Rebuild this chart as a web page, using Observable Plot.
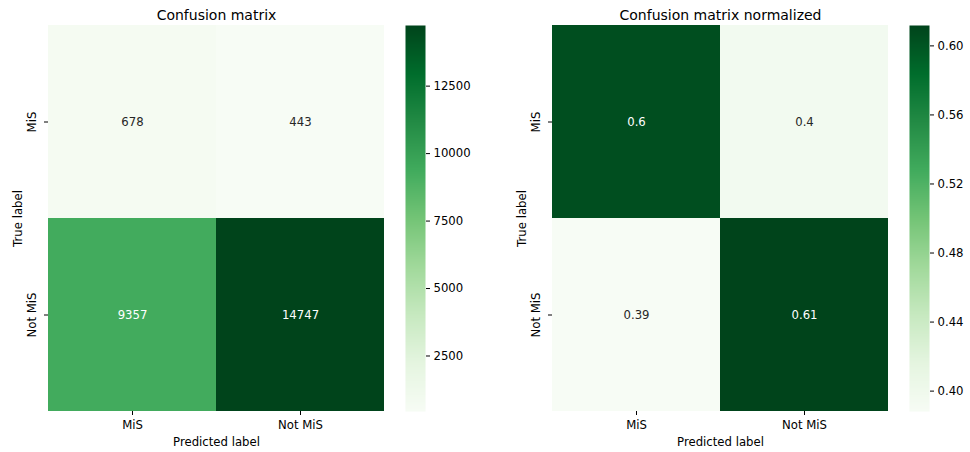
<!DOCTYPE html>
<html>
<head>
<meta charset="utf-8">
<script src="https://cdn.jsdelivr.net/npm/d3@7"></script>
<script src="https://cdn.jsdelivr.net/npm/@observablehq/plot@0.6"></script>
<style>
  body { margin: 0; background: #fff; }
  #chart { position: relative; width: 970px; height: 452px; }
  #chart svg { position: absolute; top: 0; }
</style>
</head>
<body>
<div id="chart"></div>
<script>
// Class labels (rows = true label, columns = predicted label)
const classes = ["MiS", "Not MiS"];
// Raw confusion-matrix counts, one array per true class
const countsMiS = [678, 443];
const countsNotMiS = [9357, 14747];
const countRows = [countsMiS, countsNotMiS];
// Colorbar tick values
const countTicks = [2500, 5000, 7500, 10000, 12500];
const normTicks = [0.40, 0.44, 0.48, 0.52, 0.56, 0.60];
// Greens colormap stops
const greens = ["#f7fcf5", "#e5f5e0", "#c7e9c0", "#a1d99b", "#74c476", "#41ab5d", "#238b45", "#006d2c", "#00441b"];

const interp = d3.piecewise(d3.interpolateRgb, greens);
const FONT = "DejaVu Sans";
const FS = 11.7;

function toCells(rows) {
  const out = [];
  rows.forEach((r, i) => r.forEach((v, j) => out.push({truth: classes[i], pred: classes[j], value: v})));
  return out;
}

const countCells = toCells(countRows);
// Row-normalised matrix: each true class sums to 1
const normRows = countRows.map(r => { const s = d3.sum(r); return r.map(v => v / s); });
const normCells = toCells(normRows);

function luminance(c) {
  const rgb = d3.rgb(c);
  const lin = u => { u /= 255; return u <= 0.03928 ? u / 12.92 : Math.pow((u + 0.055) / 1.055, 2.4); };
  return 0.2126 * lin(rgb.r) + 0.7152 * lin(rgb.g) + 0.0722 * lin(rgb.b);
}

function heatmap(cells, title, fmt, left) {
  const [lo, hi] = d3.extent(cells, d => d.value);
  const textColor = v => luminance(interp((v - lo) / (hi - lo))) > 0.408 ? "#262626" : "white";
  const svg = Plot.plot({
    width: 400, height: 452,
    marginLeft: 48, marginRight: 16, marginTop: 25, marginBottom: 41,
    style: {fontFamily: FONT, fontSize: FS + "px", color: "black", overflow: "visible"},
    x: {domain: classes, padding: 0, label: "Predicted label"},
    y: {domain: classes, padding: 0, label: "True label"},
    color: {type: "linear", domain: [lo, hi], interpolate: interp},
    marks: [
      Plot.cell(cells, {x: "pred", y: "truth", fill: "value"}),
      Plot.text(cells, {x: "pred", y: "truth", text: d => fmt(d.value), fill: d => textColor(d.value), fontSize: FS}),
      Plot.axisX({tickSize: 4, tickPadding: 5, labelAnchor: "center", labelOffset: 34}),
      Plot.axisY({tickSize: 4, tickPadding: 9, tickRotate: -90, labelAnchor: "center", labelOffset: 35}),
      Plot.text([title], {text: d => d, frameAnchor: "top", dy: -6, lineAnchor: "bottom", fontSize: 14, fill: "black"})
    ]
  });
  svg.style.left = left + "px";
  return {svg, lo, hi};
}

function colorbar(lo, hi, ticks, tickFmt, left, width) {
  const svg = Plot.plot({
    width, height: 452,
    marginLeft: 5, marginRight: width - 25, marginTop: 25, marginBottom: 41,
    style: {fontFamily: FONT, fontSize: FS + "px", color: "black", overflow: "visible"},
    x: {domain: [0, 1], axis: null},
    y: {domain: [lo, hi], axis: null},
    color: {type: "linear", domain: [lo, hi], interpolate: interp},
    marks: [
      Plot.raster({x1: 0, x2: 1, y1: lo, y2: hi, width: 1, height: 386, fill: (x, y) => y, imageRendering: "auto"}),
      Plot.axisY(ticks, {anchor: "right", tickSize: 4, tickPadding: 4, tickFormat: tickFmt, label: null})
    ]
  });
  svg.style.left = left + "px";
  return svg;
}

const chart = document.getElementById("chart");
const a = heatmap(countCells, "Confusion matrix", d3.format("d"), 0);
const b = heatmap(normCells, "Confusion matrix normalized", d3.format(".2~g"), 504);
chart.append(a.svg, colorbar(a.lo, a.hi, countTicks, d3.format("d"), 400, 60), b.svg, colorbar(b.lo, b.hi, normTicks, d3.format(".2f"), 904, 66));
</script>
</body>
</html>
